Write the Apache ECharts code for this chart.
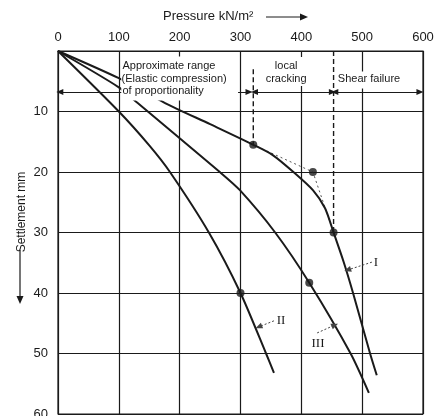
<!DOCTYPE html>
<html>
<head>
<meta charset="utf-8">
<title>Pressure - settlement</title>
<script src="https://cdn.jsdelivr.net/npm/echarts/dist/echarts.min.js"></script>
<style>
	html, body { margin: 0; padding: 0; background: #fff; }
	#main { width: 442px; height: 416px; }
</style>
</head>
<body>
<div id="main"></div>
<script>
// pressure (kN/m2), settlement (mm)
var curveI = [[0, 0], [100, 4.5], [176, 8.6], [250, 12.1], [321, 15.5], [353, 17.2], [387, 20], [419, 23], [439, 26], [453, 30], [470, 35], [485, 40], [513, 50], [524, 53.6]];
var curveII = [[0, 0], [100, 10], [150, 15.6], [184, 20], [248, 30], [300, 40], [342, 50], [355, 53.2]];
var curveIII = [[0, 0], [100, 6], [131, 8.6], [266, 20], [299, 23], [357, 30], [413, 38.3], [481, 50], [511, 56.5]];
var testPoints = [[321, 15.5], [419, 20], [453, 30], [300, 40], [413, 38.3]];
var tangentLine = [[321, 15.5], [419, 20], [453, 30]];
var limitA = [[321, 3], [321, 15.5]];
var limitB = [[453, 0], [453, 30]];
var zoneStart = [3, 323, 455];
var zoneEnd = [314, 451, 595];

var ink = '#1a1a1a';
var sans = '"Liberation Sans", Arial, sans-serif';
var serif = '"Liberation Serif", "Times New Roman", serif';
var zoneY = 6.78;

var dom = document.getElementById('main');
var myChart = echarts.init(dom);

function curve(data) {
	return {
		type: 'line',
		data: data,
		smooth: 0.25,
		symbol: 'none',
		lineStyle: { color: ink, width: 2 },
		z: 3
	};
}

var zoneLines = [];
for (var i = 0; i < zoneStart.length; i++) {
	zoneLines.push([{ coord: [zoneStart[i], zoneY] }, { coord: [zoneEnd[i], zoneY] }]);
}

var option = {
	backgroundColor: '#fff',
	animation: false,
	grid: { left: 58, top: 51, right: 19, bottom: 2, show: true, borderColor: ink, borderWidth: 1.2, outerBoundsMode: 'none', containLabel: false },
	xAxis: {
		type: 'value', position: 'top', min: 0, max: 600, interval: 100,
		axisLine: { show: false }, axisTick: { show: false },
		axisLabel: { margin: 7, fontSize: 13, color: ink, fontFamily: sans },
		splitLine: { lineStyle: { color: ink, width: 1.2 } }
	},
	yAxis: {
		type: 'value', inverse: true, min: 0, max: 60, interval: 10,
		axisLine: { show: false }, axisTick: { show: false },
		axisLabel: {
			margin: 10, fontSize: 13, color: ink, fontFamily: sans,
			formatter: function (v) { return v === 0 ? '' : v; }
		},
		splitLine: { lineStyle: { color: ink, width: 1.2 } }
	},
	series: [
		curve(curveI),
		curve(curveII),
		curve(curveIII),
		{
			type: 'line', data: tangentLine, symbol: 'none',
			lineStyle: { color: '#555', width: 1, type: [2, 3] }, z: 2
		},
		{
			type: 'line', data: limitA, symbol: 'none',
			lineStyle: { color: ink, width: 1.4, type: [5, 3] }, z: 2,
			markLine: {
				silent: true, animation: false,
				symbol: ['triangle', 'triangle'], symbolSize: [6, 7],
				label: { show: false },
				lineStyle: { color: ink, width: 1, type: 'solid' },
				data: zoneLines
			}
		},
		{
			type: 'line', data: limitB, symbol: 'none',
			lineStyle: { color: ink, width: 1.4, type: [5, 3] }, z: 2,
			markLine: {
				silent: true, animation: false,
				symbol: ['none', 'triangle'], symbolSize: [6, 7],
				label: { show: false },
				lineStyle: { color: '#444', width: 1, type: [2, 2] },
				data: [
					[{ coord: [516, 34.9] }, { coord: [476, 36.2] }],
					[{ coord: [355, 44.6] }, { coord: [330, 45.6] }],
					[{ coord: [426, 46.6] }, { coord: [455, 45.3] }]
				]
			}
		},
		{
			type: 'scatter', data: testPoints, symbolSize: 8,
			itemStyle: { color: ink }, z: 5
		}
	]
};
myChart.setOption(option, true);

// annotations placed in data units
function px(p) { return myChart.convertToPixel({ gridIndex: 0 }, p); }
function mask(x1, y1, x2, y2) {
	var a = px([x1, y1]), b = px([x2, y2]);
	return { type: 'rect', z: 100, shape: { x: a[0], y: a[1], width: b[0] - a[0], height: b[1] - a[1] }, style: { fill: '#fff' } };
}
function label(text, p, align, font) {
	var q = px(p);
	return {
		type: 'text', z: 101, x: q[0], y: q[1],
		style: { text: text, font: font || ('11px ' + sans), fill: ink, align: align, textAlign: align, verticalAlign: 'middle', textVerticalAlign: 'middle' }
	};
}

var graphics = [
	mask(104, 0.9, 296, 8.2),
	mask(339, 1.0, 414, 5.8),
	mask(459, 3.4, 566, 6.2),
	label('Approximate range', [106, 2.48], 'left'),
	label('(Elastic compression)', [104.5, 4.63], 'left'),
	label('of proportionality', [106, 6.6], 'left'),
	label('local', [375, 2.5], 'center'),
	label('cracking', [375, 4.63], 'center'),
	label('Shear failure', [460, 4.63], 'left'),
	label('I', [522.8, 34.9], 'center', '13px ' + serif),
	label('II', [366.6, 44.5], 'center', '13px ' + serif),
	label('III', [427.4, 48.3], 'center', '13px ' + serif),
	// axis names
	{
		type: 'text', x: 163, y: 16,
		style: { text: 'Pressure kN/m\u00B2', font: '13px ' + sans, fill: ink, align: 'left', textAlign: 'left', verticalAlign: 'middle', textVerticalAlign: 'middle' }
	},
	{ type: 'line', shape: { x1: 266, y1: 17, x2: 302, y2: 17 }, style: { stroke: ink, lineWidth: 1 } },
	{ type: 'polygon', shape: { points: [[300, 13.5], [300, 20.5], [308, 17]] }, style: { fill: ink } },
	{
		type: 'text', x: 22, y: 212, rotation: Math.PI / 2,
		style: { text: 'Settlement mm', font: '12px ' + sans, fill: ink, align: 'center', textAlign: 'center', verticalAlign: 'middle', textVerticalAlign: 'middle' }
	},
	{ type: 'line', shape: { x1: 20, y1: 250, x2: 20, y2: 297 }, style: { stroke: ink, lineWidth: 1.2 } },
	{ type: 'polygon', shape: { points: [[16.5, 296], [23.5, 296], [20, 304]] }, style: { fill: ink } }
];
myChart.setOption({ graphic: graphics });
</script>
</body>
</html>
